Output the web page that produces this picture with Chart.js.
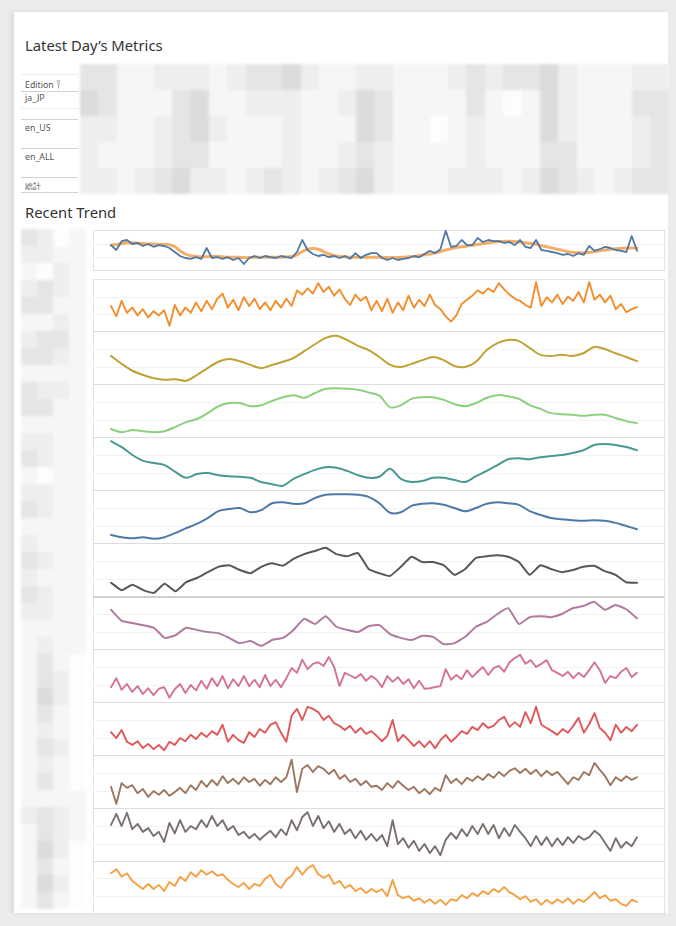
<!DOCTYPE html>
<html><head><meta charset="utf-8">
<script src="https://cdn.jsdelivr.net/npm/chart.js@4/dist/chart.umd.min.js"></script>
<style>
body{margin:0;width:676px;height:926px;background:#ececec;overflow:hidden;font-family:"Noto Sans","Open Sans",sans-serif;position:relative}
#panel{position:absolute;left:14px;top:12px;width:654px;height:901px;background:#fff;box-shadow:-3px 0 5px rgba(0,0,0,0.07)}
.title{position:absolute;left:25px;font-size:14.8px;color:#333;line-height:18px;white-space:nowrap}
.lbl{position:absolute;left:25px;font-size:8.8px;color:#555;line-height:10px;white-space:nowrap}
.hl{position:absolute;left:21px;width:57px;height:1px;background:#d2d2d2}
.cell{position:absolute}
.grid{position:absolute;left:93px;width:572px;height:1px;background:#f2f2f2}
.sep{position:absolute;left:93px;width:572px;height:1px;background:#dddddd}
.box{position:absolute;box-sizing:border-box;border:1px solid #e2e2e2}
.row{position:absolute;left:105px;width:540px}
.blur{position:absolute;left:0;top:0;width:676px;height:926px;filter:blur(1.6px)}
</style></head>
<body>
<div id="panel"></div>
<div class="title" style="top:36px">Latest Day’s Metrics</div>
<div class="title" style="top:203px">Recent Trend</div>
<div id="mos" class="blur"></div>
<div id="stage"></div>
<script>
// ---------- categories / labels ----------
const editions = ["ja_JP", "en_US", "en_ALL", "総計"];
const dailyLabels = Array.from({length: 100}, (_, i) => "D" + (i + 1));
const smoothLabels = Array.from({length: 50}, (_, i) => "W" + (i + 1));

// ---------- series values (0-100 within each sparkline row) ----------
const seriesBlue = [62,50,72,75,65,68,60,65,58,62,60,55,45,35,30,28,32,28,55,30,32,28,32,25,30,15,30,35,30,35,32,30,35,32,30,45,75,50,40,35,38,32,35,30,35,28,42,30,38,42,42,30,25,30,25,28,30,35,32,40,48,42,52,98,58,60,75,62,62,80,70,75,72,72,68,70,62,75,58,55,75,50,48,45,42,38,40,35,42,38,60,48,52,58,55,50,48,45,85,48];
const seriesBlueTrend = [62,64,66,68,68,67,66,65,65,64,64,63,58,48,40,36,34,33,33,34,34,33,32,32,32,31,31,32,32,32,32,32,32,33,34,38,46,52,54,52,46,40,36,34,33,32,32,32,32,32,32,32,31,31,31,32,33,34,36,38,40,43,46,50,53,56,58,60,62,64,66,68,70,71,72,72,71,70,68,66,64,61,58,55,52,49,46,44,43,43,44,46,48,50,52,53,54,55,55,55];
const seriesOrange = [48,28,58,35,45,30,42,26,38,30,40,10,50,30,45,35,55,38,58,42,62,72,45,60,40,65,48,62,42,55,40,58,45,62,48,78,70,82,72,92,75,85,68,80,62,50,70,58,66,40,58,38,62,35,55,40,68,45,60,48,70,50,42,28,18,30,52,60,68,78,72,82,75,92,80,70,62,58,50,45,94,48,65,55,70,52,66,58,75,55,94,60,70,55,68,42,52,36,42,46];
const seriesGold = [53,38,25,17,11,8,9,6,17,30,42,47,43,36,30,36,42,49,62,75,87,91,83,72,64,51,36,32,38,45,51,45,34,32,42,64,77,83,81,68,55,53,55,53,58,70,66,58,51,43];
const seriesGreen = [15,9,13,11,9,11,19,28,34,45,58,64,64,58,60,68,75,79,74,83,91,92,91,89,84,78,56,60,72,75,75,70,62,58,64,74,79,77,72,60,53,45,43,42,40,42,42,36,30,26];
const seriesTeal = [92,81,66,55,51,47,34,23,30,32,28,26,25,23,15,11,8,21,30,38,43,42,36,28,23,25,40,21,15,17,23,23,19,15,26,36,47,58,60,58,62,64,66,70,75,85,87,85,81,75];
const seriesSteel = [15,11,9,11,8,11,19,28,36,47,60,64,66,58,62,75,77,74,75,85,91,92,92,91,87,75,57,58,70,74,75,72,66,60,66,74,77,75,72,60,53,47,45,43,42,43,42,38,32,26];
const seriesGrey = [25,11,21,11,6,23,9,26,34,45,55,58,49,43,55,62,57,70,79,85,91,79,75,81,51,43,38,55,74,64,64,58,40,51,72,75,77,74,64,40,58,51,45,49,55,57,47,40,26,25];
const seriesPurple = [74,53,49,45,40,21,26,40,36,32,30,21,11,15,6,17,21,36,57,47,62,42,36,32,43,45,28,21,17,25,23,9,11,23,42,51,66,77,47,60,62,60,66,77,81,89,74,83,75,58];
const seriesPink = [28,45,23,34,19,30,15,26,13,25,28,8,24,34,17,32,22,40,25,45,30,49,26,43,30,49,30,42,28,51,30,42,28,45,64,55,80,62,72,75,68,85,66,30,55,50,45,53,40,49,42,28,49,38,47,34,43,26,40,25,26,28,30,62,42,51,43,60,47,57,66,51,64,68,57,75,83,89,72,79,66,72,79,60,55,49,57,45,55,47,60,75,60,36,49,45,57,64,47,55];
const seriesRed = [43,32,47,25,19,26,13,21,11,19,9,25,19,32,26,38,30,42,34,45,38,57,25,38,28,23,43,34,49,42,57,62,42,25,74,87,66,91,87,81,66,74,60,55,47,55,42,51,40,45,36,26,36,66,26,38,28,17,26,15,26,13,28,38,25,34,45,40,53,47,60,51,55,66,72,53,62,53,81,60,91,57,51,45,38,49,42,55,70,42,58,79,51,42,28,57,42,53,45,57];
const seriesBrown = [40,8,47,38,43,28,36,21,32,25,34,23,30,38,28,43,34,51,40,53,43,60,47,55,45,58,49,55,42,53,45,58,49,58,91,30,74,81,68,79,74,64,72,55,62,49,55,43,51,40,42,34,47,38,51,42,34,40,28,36,26,38,32,62,47,55,45,57,51,60,53,64,57,68,60,70,75,66,74,64,72,60,70,62,68,57,45,58,53,68,62,85,72,60,43,58,51,60,53,58];
const seriesTaupe = [68,89,66,91,60,70,55,62,47,55,36,72,52,77,55,66,60,77,64,85,66,77,58,66,49,55,43,51,40,49,57,45,60,49,77,58,83,92,66,85,62,75,55,70,51,60,43,57,40,51,38,49,28,77,32,43,25,38,19,32,15,28,11,40,53,42,60,47,66,51,70,51,68,43,62,47,68,55,43,28,47,30,45,28,43,30,45,34,47,40,45,57,49,34,19,43,25,36,28,45];
const seriesApricot = [76,84,69,76,61,53,45,55,45,53,41,59,51,69,61,78,69,82,73,80,71,74,63,55,49,57,45,55,51,65,73,55,47,63,71,88,73,86,92,74,67,73,55,61,47,53,41,47,37,45,39,45,31,63,33,27,31,22,27,18,25,16,24,14,25,22,33,27,37,31,41,35,45,39,49,39,33,25,31,20,25,14,24,16,25,18,27,16,25,20,29,39,27,33,22,25,16,12,24,20];

// ---------- row layout and styling ----------
const rows = [
  {top:230, bottom:270, labels:dailyLabels, sets:[
    {data:seriesBlue, color:"#4e79a7", width:1.8, tension:0},
    {data:seriesBlueTrend, color:"rgba(242,142,43,0.72)", width:3, tension:0.4}]},
  {top:279, bottom:331, labels:dailyLabels, sets:[{data:seriesOrange, color:"#f28e2b", width:1.9, tension:0}]},
  {top:331, bottom:384, labels:smoothLabels, sets:[{data:seriesGold, color:"#bda235", width:2, tension:0.3}]},
  {top:384, bottom:437, labels:smoothLabels, sets:[{data:seriesGreen, color:"#8cd17d", width:2, tension:0.3}]},
  {top:437, bottom:490, labels:smoothLabels, sets:[{data:seriesTeal, color:"#499894", width:2, tension:0.3}]},
  {top:490, bottom:543, labels:smoothLabels, sets:[{data:seriesSteel, color:"#4e79a7", width:2, tension:0.3}]},
  {top:543, bottom:596, labels:smoothLabels, sets:[{data:seriesGrey, color:"#575757", width:2, tension:0.15}]},
  {top:596, bottom:649, labels:smoothLabels, sets:[{data:seriesPurple, color:"#b07aa1", width:2, tension:0.15}]},
  {top:649, bottom:702, labels:dailyLabels, sets:[{data:seriesPink, color:"#d37295", width:1.9, tension:0}]},
  {top:702, bottom:755, labels:dailyLabels, sets:[{data:seriesRed, color:"#e15759", width:1.9, tension:0}]},
  {top:755, bottom:808, labels:dailyLabels, sets:[{data:seriesBrown, color:"#9d7660", width:1.9, tension:0}]},
  {top:808, bottom:861, labels:dailyLabels, sets:[{data:seriesTaupe, color:"#79706e", width:1.9, tension:0}]},
  {top:861, bottom:912, labels:dailyLabels, sets:[{data:seriesApricot, color:"#f5a045", width:1.9, tension:0}]}
];

const stage = document.getElementById("stage");
const mos = document.getElementById("mos");
function el(cls, style, html, parent) {
  const d = document.createElement("div");
  if (cls) d.className = cls;
  d.style.cssText = style;
  if (html !== undefined) d.innerHTML = html;
  (parent || stage).appendChild(d);
  return d;
}

// ---------- redacted mosaic blocks ----------
const shade = {"0":"#fdfdfd","1":"#f6f6f6","2":"#eeeeee","3":"#e5e5e5","4":"#dcdcdc"};
function mosaic(x0, y0, cw, ch, grid) {
  grid.forEach((r, ri) => {
    [...r].forEach((c, ci) => {
      el("cell", `left:${(x0 + ci*cw).toFixed(1)}px;top:${y0 + ri*ch}px;width:${(cw+0.6).toFixed(1)}px;height:${ch}px;background:${shade[c]}`, undefined, mos);
    });
  });
}
mosaic(80, 64, 18.4, 26, [
  "33112221233421122111232334211122",
  "43111341122211243111131014211133",
  "22112342111211143110121114211123",
  "21112331111211232111121113311123",
  "22123422123212342111222124321233"
]);
mosaic(21, 229, 16, 17, [
  "3201","2211","1021","2321","3311","1121","2331","3321","1111","3221",
  "3311","1111","2211","3211","1011","2211","3211","1111","2111","3211",
  "2111","3211","2211","1111","1211","1310","1320","1420","1310","1210",
  "1320","1210","1310","1111","2321","1321","1420","1310","1420","1310"
]);

// ---------- table labels ----------
el("lbl", "top:80px", 'Edition <svg width="5" height="9" style="vertical-align:-1px"><path d="M0.5 1h4M1 3h3M1.5 5h2M2.5 5v3.5" stroke="#888" stroke-width="0.8" fill="none"/></svg>');
el("hl", "top:74px;background:#ececec");
el("hl", "top:91px");
const labelTops = [93, 123, 152, 181];
const lineTops = [119, 148, 177, 192];
editions.forEach((e, i) => {
  el("lbl", `top:${labelTops[i]}px;` + (i === 3 ? "font-size:7.5px" : ""), e);
  el("hl", `top:${lineTops[i]}px`);
});
el("hl", "top:108px;background:#f0f0f0");

// ---------- boxes, separators, faint gridlines ----------
el("box", "left:93px;top:230px;width:572px;height:41px");
el("box", "left:93px;top:279px;width:572px;height:635px");
rows.forEach((r, i) => {
  const h = r.bottom - r.top;
  if (i >= 2) el("sep", `top:${r.top}px;` + (i === 7 ? "height:2px;background:#cfcfcf" : ""));
  el("grid", `top:${Math.round(r.top + h*0.34)}px`);
  el("grid", `top:${Math.round(r.top + h*0.68)}px`);
});

// ---------- sparkline charts ----------
rows.forEach(r => {
  const h = r.bottom - r.top;
  const wrap = el("row", `top:${r.top}px;height:${h}px`);
  const cv = document.createElement("canvas");
  cv.width = 540; cv.height = h;
  wrap.appendChild(cv);
  new Chart(cv, {
    type: "line",
    data: {
      labels: r.labels,
      datasets: r.sets.map(s => ({
        data: s.data, borderColor: s.color, borderWidth: s.width,
        tension: s.tension, pointRadius: 0, fill: false, clip: false,
        borderJoinStyle: "round", borderCapStyle: "round"
      }))
    },
    options: {
      responsive: false, animation: false, devicePixelRatio: 1,
      layout: {padding: {left: 6, right: 8, top: 0, bottom: 0}},
      scales: {
        x: {display: false},
        y: {display: false, min: 0, max: 100}
      },
      plugins: {legend: {display: false}, tooltip: {enabled: false}}
    }
  });
});
</script>
</body></html>
